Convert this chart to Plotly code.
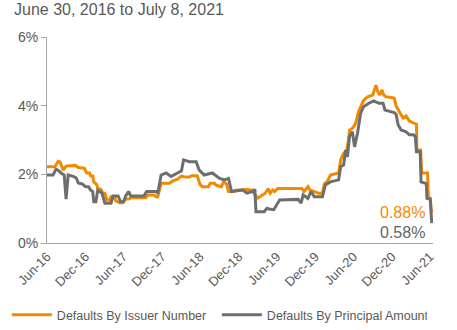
import plotly.graph_objects as go

title_text = "June 30, 2016 to July 8, 2021"

issuer_dates = [
    "2016-06-30", "2016-08-07", "2016-08-22", "2016-08-31", "2016-09-15", "2016-09-29",
    "2016-11-12", "2016-11-26", "2016-12-25", "2017-01-05", "2017-01-19", "2017-01-24",
    "2017-02-03", "2017-02-08", "2017-02-22", "2017-02-27", "2017-03-14", "2017-03-24",
    "2017-04-02", "2017-04-12", "2017-04-26", "2017-05-01", "2017-05-16", "2017-05-25",
    "2017-06-13", "2017-06-25", "2017-07-10", "2017-07-24", "2017-08-08", "2017-10-14",
    "2017-10-23", "2017-11-21", "2017-12-01", "2017-12-10", "2017-12-26", "2018-02-03",
    "2018-02-18", "2018-03-14", "2018-04-02", "2018-04-21", "2018-05-10", "2018-05-20",
    "2018-06-16", "2018-06-30", "2018-07-10", "2018-08-08", "2018-08-17", "2018-09-06",
    "2018-09-15", "2018-10-10", "2018-10-19", "2018-11-03", "2018-11-12", "2018-12-06",
    "2018-12-17", "2019-02-08", "2019-03-04", "2019-03-18", "2019-04-02", "2019-04-21",
    "2019-05-06", "2019-05-20", "2019-05-30", "2019-06-11", "2019-06-20", "2019-07-05",
    "2019-10-28", "2019-11-07", "2019-11-16", "2019-11-26", "2019-12-05", "2019-12-26",
    "2020-01-14", "2020-02-03", "2020-02-12", "2020-02-27", "2020-03-12", "2020-04-20",
    "2020-04-30", "2020-05-14", "2020-05-29", "2020-06-06", "2020-06-11", "2020-06-25",
    "2020-07-10", "2020-07-24", "2020-08-08", "2020-08-17", "2020-09-06", "2020-09-30",
    "2020-10-10", "2020-10-15", "2020-10-24", "2020-11-03", "2020-11-13", "2020-11-22",
    "2020-12-02", "2021-01-10", "2021-01-19", "2021-01-29", "2021-02-12", "2021-02-22",
    "2021-03-08", "2021-03-23", "2021-04-11", "2021-04-26", "2021-04-28", "2021-05-16",
    "2021-05-21", "2021-06-18", "2021-06-22", "2021-07-01", "2021-07-04", "2021-07-08",
]
issuer_values = [
    2.22, 2.22, 2.38, 2.36, 2.12, 2.24,
    2.26, 2.20, 2.18, 2.04, 2.04, 1.95,
    1.95, 1.78, 1.70, 1.60, 1.56, 1.45,
    1.45, 1.25, 1.25, 1.35, 1.35, 1.22,
    1.17, 1.17, 1.28, 1.28, 1.32, 1.32,
    1.40, 1.40, 1.35, 1.35, 1.74, 1.74,
    1.80, 1.86, 1.95, 1.92, 1.92, 1.96,
    1.96, 1.70, 1.64, 1.64, 1.74, 1.74,
    1.68, 1.64, 1.78, 1.72, 1.50, 1.50,
    1.54, 1.56, 1.54, 1.40, 1.31, 1.38,
    1.45, 1.58, 1.45, 1.54, 1.50, 1.59,
    1.59, 1.50, 1.58, 1.64, 1.55, 1.50,
    1.45, 1.45, 1.72, 1.80, 1.98, 2.04,
    2.42, 2.61, 2.71, 3.00, 3.29, 3.34,
    3.48, 3.83, 4.05, 4.15, 4.26, 4.31,
    4.50, 4.60, 4.40, 4.31, 4.46, 4.30,
    4.26, 4.22, 4.00, 3.87, 3.73, 3.64,
    3.70, 3.55, 3.50, 3.46, 2.71, 2.71,
    2.04, 2.04, 1.35, 1.31, 1.06, 0.88,
]

principal_dates = [
    "2016-06-30", "2016-07-29", "2016-08-12", "2016-08-22", "2016-09-05", "2016-09-20",
    "2016-09-29", "2016-10-09", "2016-11-02", "2016-11-16", "2016-11-26", "2016-12-15",
    "2016-12-31", "2017-01-14", "2017-01-24", "2017-02-03", "2017-02-08", "2017-02-18",
    "2017-02-27", "2017-03-09", "2017-03-19", "2017-04-02", "2017-05-01", "2017-05-11",
    "2017-06-04", "2017-06-16", "2017-06-30", "2017-07-10", "2017-07-24", "2017-08-03",
    "2017-10-04", "2017-10-18", "2017-12-01", "2017-12-10", "2017-12-26", "2018-01-19",
    "2018-02-12", "2018-03-14", "2018-04-02", "2018-04-12", "2018-05-10", "2018-06-11",
    "2018-06-25", "2018-07-19", "2018-08-27", "2018-10-01", "2018-10-24", "2018-11-12",
    "2018-11-27", "2019-01-19", "2019-02-08", "2019-03-08", "2019-03-18", "2019-03-23",
    "2019-05-01", "2019-05-15", "2019-05-25", "2019-06-16", "2019-07-14", "2019-10-10",
    "2019-10-24", "2019-11-03", "2019-11-26", "2019-12-10", "2019-12-26", "2020-02-03",
    "2020-02-17", "2020-03-12", "2020-04-20", "2020-04-30", "2020-05-14", "2020-05-24",
    "2020-06-01", "2020-06-11", "2020-06-25", "2020-07-05", "2020-07-19", "2020-08-03",
    "2020-08-17", "2020-09-11", "2020-10-05", "2020-10-29", "2020-11-18", "2020-11-27",
    "2020-12-26", "2021-01-10", "2021-01-19", "2021-01-29", "2021-02-12", "2021-03-08",
    "2021-03-23", "2021-04-11", "2021-04-21", "2021-04-26", "2021-05-14", "2021-05-18",
    "2021-06-12", "2021-06-15", "2021-07-01", "2021-07-08",
]
principal_values = [
    1.98, 1.98, 2.15, 2.12, 2.04, 1.98,
    1.28, 1.98, 1.94, 1.90, 1.75, 1.72,
    1.64, 1.64, 1.54, 1.50, 1.20, 1.20,
    1.54, 1.50, 1.45, 1.16, 1.16, 1.37,
    1.37, 1.20, 1.20, 1.37, 1.50, 1.37,
    1.37, 1.50, 1.50, 1.45, 1.98, 2.04,
    1.94, 2.04, 2.10, 2.42, 2.37, 2.37,
    2.13, 1.98, 2.04, 1.88, 1.84, 1.88,
    1.50, 1.54, 1.45, 1.50, 1.56, 0.91,
    0.91, 1.01, 0.99, 0.97, 1.25, 1.27,
    1.16, 1.40, 1.30, 1.50, 1.35, 1.35,
    1.69, 1.78, 1.84, 2.22, 2.27, 2.71,
    2.51, 3.10, 3.24, 2.80, 3.19, 3.78,
    3.97, 4.07, 4.14, 4.07, 4.07, 3.87,
    3.83, 3.80, 3.75, 3.44, 3.29, 3.24,
    3.15, 3.15, 3.10, 2.66, 2.66, 1.78,
    1.73, 1.30, 1.27, 0.58,
]

tick_dates = ["2016-06-30", "2016-12-31", "2017-06-30", "2017-12-31", "2018-06-30", "2018-12-31",
              "2019-06-30", "2019-12-31", "2020-06-30", "2020-12-31", "2021-06-30"]
tick_labels = ["Jun-16", "Dec-16", "Jun-17", "Dec-17", "Jun-18", "Dec-18",
               "Jun-19", "Dec-19", "Jun-20", "Dec-20", "Jun-21"]
y_ticks = [0, 2, 4, 6]
y_tick_labels = ["0%", "2%", "4%", "6%"]

series_names = ["Defaults By Issuer Number", "Defaults By Principal Amount"]
last_labels = ["0.88%", "0.58%"]

ORANGE = "#F28A00"
GRAY = "#6E6E6E"
TEXT = "#595959"
AXIS = "#A6A6A6"
FONT = "Liberation Sans, Arial, sans-serif"

fig = go.Figure()
fig.add_trace(go.Scatter(x=issuer_dates, y=issuer_values, mode="lines", name=series_names[0],
                         line=dict(color=ORANGE, width=3)))
fig.add_trace(go.Scatter(x=principal_dates, y=principal_values, mode="lines", name=series_names[1],
                         line=dict(color=GRAY, width=3)))

fig.add_annotation(text=last_labels[0], xref="paper", yref="paper", x=0.985, y=0.148,
                   xanchor="right", yanchor="middle", showarrow=False,
                   font=dict(size=16, color=ORANGE, family=FONT))
fig.add_annotation(text=last_labels[1], xref="paper", yref="paper", x=0.985, y=0.05,
                   xanchor="right", yanchor="middle", showarrow=False,
                   font=dict(size=16, color="#5E6666", family=FONT))

fig.update_layout(
    width=457, height=330,
    margin=dict(l=47, r=24, t=37, b=87, autoexpand=False),
    paper_bgcolor="white", plot_bgcolor="white",
    font=dict(family=FONT, size=14, color=TEXT),
    title=dict(text=title_text, x=14 / 457, xanchor="left", xref="container",
               y=0.99, yanchor="top", yref="container",
               font=dict(size=16, color=TEXT, family=FONT)),
    showlegend=True,
    legend=dict(orientation="h", x=-0.104, xanchor="left",
                y=-0.35, yanchor="middle",
                font=dict(size=12.5, color=TEXT, family=FONT), itemwidth=40,
                entrywidth=155, entrywidthmode="pixels",
                tracegroupgap=0, bgcolor="rgba(0,0,0,0)"),
    xaxis=dict(type="date", range=["2016-06-30", "2021-07-14"], tickvals=tick_dates,
               ticktext=tick_labels, tickangle=-45, showgrid=False, zeroline=False,
               showline=True, linecolor=AXIS, linewidth=1, ticks="", automargin=False,
               tickfont=dict(size=13, color=TEXT)),
    yaxis=dict(range=[0, 6], tickvals=y_ticks, ticktext=y_tick_labels, showgrid=False,
               zeroline=False, showline=True, linecolor=AXIS, linewidth=1,
               ticks="outside", ticklen=5, tickcolor=AXIS, automargin=False,
               tickfont=dict(size=14, color=TEXT)),
)

fig.write_html("out.html")
